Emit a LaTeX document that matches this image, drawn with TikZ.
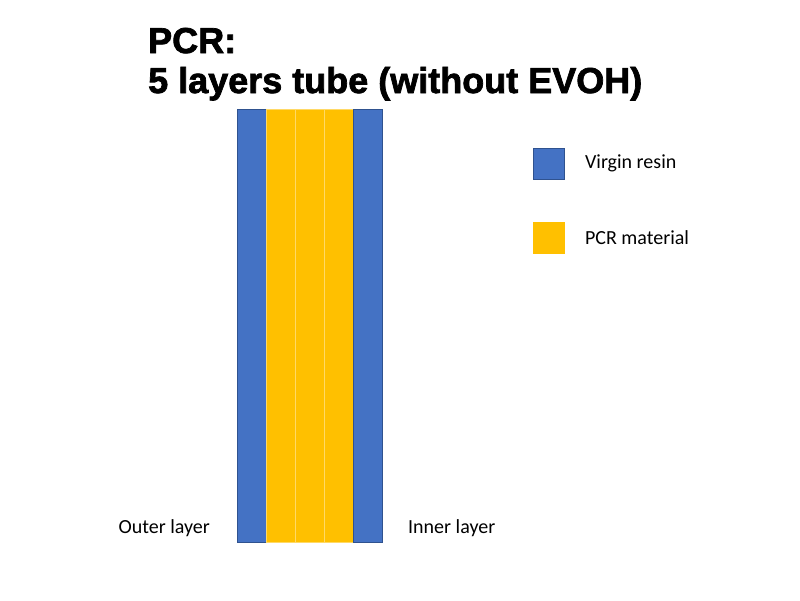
\documentclass[tikz,border=0pt]{standalone}
\usepackage{fontspec}
\setmainfont{Carlito}
\newfontfamily\titlefont[BoldFeatures={FakeBold=2}]{Liberation Sans}
\usetikzlibrary{positioning}
\definecolor{virgin}{HTML}{4472C4}
\definecolor{virginline}{HTML}{2F528F}
\definecolor{pcr}{HTML}{FFC000}
\definecolor{pcrline}{HTML}{FFD966}
\tikzset{
  layer/.style={draw, minimum width=29pt, minimum height=433pt, inner sep=0pt, outer sep=0pt, anchor=north west, line width=0.8pt},
  keybox/.style={draw, minimum width=31pt, minimum height=31pt, inner sep=0pt, line width=0.8pt},
  lbl/.style={font=\fontsize{20}{22}\selectfont, inner sep=0pt}
}
\begin{document}
\begin{tikzpicture}[x=1pt,y=-1pt]
\useasboundingbox[fill=white] (0,0) rectangle (800,600);
% title
\node[anchor=base west, inner sep=0pt, font=\titlefont\bfseries\fontsize{36}{40}\selectfont] (t1) at (148,53) {PCR:};
\node[anchor=base west, inner sep=0pt, font=\titlefont\bfseries\fontsize{36}{40}\selectfont] (t2) at (148,93) {5 layers tube (without EVOH)};
% the five layers
\foreach \i/\c in {1/virgin, 2/pcr, 3/pcr, 4/pcr, 5/virgin}
\node[layer, fill=\c, draw=\c line] (l\i) at ({237+29*(\i-1)},109) {};
\node[lbl, anchor=base east] (outer) at (210,533) {Outer layer};
\node[lbl, anchor=base west] (inner) at (408,533) {Inner layer};
% legend
\node[keybox, fill=virgin, draw=virginline] (kv) at (549,163.5) {};
\node[keybox, fill=pcr, draw=pcr] (kp) at (549,237.5) {};
\node[lbl, right=20pt of kv] (tv) {Virgin resin};
\node[lbl, right=20pt of kp] (tp) {PCR material};
\end{tikzpicture}
\end{document}
